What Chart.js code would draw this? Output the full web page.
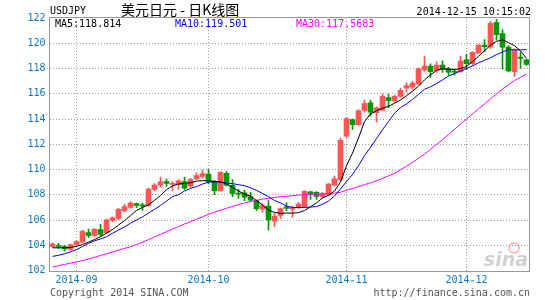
<!DOCTYPE html>
<html>
<head>
<meta charset="utf-8">
<script src="https://cdn.jsdelivr.net/npm/chart.js@4.4.1/dist/chart.umd.min.js"></script>
<style>
  html, body { margin: 0; padding: 0; background: #fff; }
  canvas { display: block; }
</style>
</head>
<body>
<canvas id="kChart" width="545" height="300"></canvas>
<script>
// trading days shown on the chart
const dates = [
  '2014-08-26','2014-08-27','2014-08-28','2014-08-29',
  '2014-09-01','2014-09-02','2014-09-03','2014-09-04','2014-09-05','2014-09-08','2014-09-09','2014-09-10',
  '2014-09-11','2014-09-12','2014-09-15','2014-09-16','2014-09-17','2014-09-18','2014-09-19','2014-09-22',
  '2014-09-23','2014-09-24','2014-09-25','2014-09-26','2014-09-29','2014-09-30',
  '2014-10-01','2014-10-02','2014-10-03','2014-10-06','2014-10-07','2014-10-08','2014-10-09','2014-10-10',
  '2014-10-13','2014-10-14','2014-10-15','2014-10-16','2014-10-17','2014-10-20','2014-10-21','2014-10-22',
  '2014-10-23','2014-10-24','2014-10-27','2014-10-28','2014-10-29','2014-10-30','2014-10-31',
  '2014-11-03','2014-11-04','2014-11-05','2014-11-06','2014-11-07','2014-11-10','2014-11-11','2014-11-12',
  '2014-11-13','2014-11-14','2014-11-17','2014-11-18','2014-11-19','2014-11-20','2014-11-21','2014-11-24',
  '2014-11-25','2014-11-26','2014-11-27','2014-11-28',
  '2014-12-01','2014-12-02','2014-12-03','2014-12-04','2014-12-05','2014-12-08','2014-12-09','2014-12-10',
  '2014-12-11','2014-12-12','2014-12-15'
];

const opens = [
  103.90,104.00,103.90,103.66,104.06,104.25,105.00,104.78,105.25,105.00,
  105.97,106.13,106.72,107.00,107.30,107.20,107.15,108.42,108.75,109.05,
  108.82,108.80,109.05,108.68,109.26,109.45,109.63,109.05,108.32,109.70,
  108.74,108.10,108.15,107.84,107.53,106.85,107.10,105.90,106.37,107.05,
  106.85,107.00,107.05,108.24,108.20,107.86,108.00,108.76,109.20,112.64,
  113.96,113.55,114.67,115.28,114.50,114.70,115.70,115.46,115.78,116.45,
  116.52,116.77,117.88,118.19,117.85,118.27,118.00,117.78,117.74,118.69,
  118.38,119.24,119.86,119.70,121.63,120.77,119.70,117.75,118.90,118.69
];
const highs = [
  104.20,104.16,104.00,104.10,104.38,105.20,105.28,105.33,105.65,106.08,
  106.25,106.92,107.24,107.45,107.35,107.35,108.52,108.88,109.40,109.25,
  109.05,109.20,109.40,109.30,109.74,109.95,110.00,109.15,109.84,109.85,
  109.20,108.42,108.37,108.20,107.58,107.30,107.53,106.53,106.95,107.37,
  107.10,107.37,108.34,108.30,108.26,108.20,108.90,109.48,112.48,114.12,
  114.00,114.75,115.50,115.50,114.97,116.00,115.97,115.90,116.44,116.87,
  116.99,118.05,118.96,118.37,118.53,118.60,118.10,117.95,118.96,119.12,
  119.33,119.92,120.29,121.73,121.90,121.09,119.81,119.55,119.28,118.75
];
const lows = [
  103.85,103.74,103.53,103.60,104.00,104.20,104.60,104.70,104.70,104.93,
  105.87,106.05,106.66,106.92,106.98,106.76,107.10,108.30,108.60,108.67,
  108.30,108.42,108.42,108.58,109.20,109.32,108.85,108.00,108.26,108.68,
  107.85,107.70,107.53,107.47,106.74,106.63,105.20,105.47,106.10,106.74,
  106.20,106.92,107.00,107.63,107.63,107.74,107.95,108.68,109.10,112.54,
  113.17,113.50,114.55,114.23,113.75,114.65,114.90,115.34,115.70,116.13,
  116.35,116.72,117.79,117.30,117.68,117.68,117.47,117.47,117.68,117.90,
  118.27,119.17,119.33,119.60,120.24,117.95,117.73,117.37,118.00,118.25
];
const closes = [
  104.10,103.90,103.70,104.06,104.30,105.10,104.78,105.28,104.86,106.02,
  106.17,106.85,107.06,107.35,107.15,107.10,108.45,108.76,109.03,108.90,
  108.86,109.10,108.53,109.20,109.52,109.68,109.05,108.32,109.78,108.75,
  108.10,108.05,107.80,107.58,106.90,107.15,106.00,106.32,106.90,106.92,
  107.00,107.26,108.28,108.08,107.86,108.10,108.84,109.27,112.32,114.04,
  113.55,114.65,115.23,114.55,114.88,115.80,115.45,115.80,116.28,116.65,
  116.85,118.00,118.19,117.75,118.27,117.90,117.70,117.70,118.59,118.38,
  119.28,119.86,119.72,121.57,120.68,119.68,117.80,119.50,118.80,118.32
];

// moving average lines
const ma5 = [
  103.80,103.80,103.80,103.82,103.92,104.05,104.25,104.45,104.68,104.95,
  105.25,105.60,105.95,106.35,106.75,107.00,107.20,107.55,107.94,108.40,
  108.70,108.85,108.90,108.95,109.08,109.12,109.10,109.05,109.03,108.85,
  108.58,108.30,108.05,107.88,107.55,107.18,106.80,106.60,106.53,106.55,
  106.55,106.58,106.75,107.05,107.35,107.75,107.95,108.30,109.00,110.30,
  111.30,112.50,113.80,114.40,114.65,114.85,115.00,115.25,115.50,115.85,
  116.20,116.60,117.10,117.50,117.85,118.00,117.95,117.90,118.00,118.15,
  118.55,118.95,119.40,119.85,120.15,120.27,120.05,119.80,119.40,118.81
];
const ma10 = [
  103.12,103.20,103.32,103.48,103.65,103.90,104.15,104.35,104.50,104.68,
  104.95,105.20,105.45,105.75,106.00,106.25,106.55,106.85,107.15,107.50,
  107.85,108.00,108.30,108.50,108.65,108.85,109.00,109.02,109.00,108.92,
  108.88,108.80,108.72,108.55,108.35,108.10,107.85,107.55,107.35,107.10,
  107.00,106.98,107.00,107.02,107.07,107.25,107.50,107.90,108.45,109.05,
  109.60,110.30,111.10,111.75,112.45,113.15,113.80,114.45,114.90,115.20,
  115.55,115.95,116.35,116.55,116.80,117.10,117.40,117.60,117.80,118.00,
  118.20,118.45,118.65,118.85,119.10,119.30,119.50,119.48,119.47,119.50
];
const ma30 = [
  102.28,102.38,102.48,102.58,102.68,102.78,102.91,103.05,103.19,103.33,
  103.47,103.61,103.75,103.88,104.05,104.24,104.45,104.66,104.87,105.08,
  105.28,105.48,105.68,105.87,106.06,106.25,106.45,106.62,106.78,106.93,
  107.08,107.22,107.35,107.46,107.56,107.65,107.72,107.78,107.84,107.88,
  107.92,107.97,108.00,108.02,108.04,108.06,108.09,108.13,108.20,108.35,
  108.50,108.65,108.80,108.95,109.10,109.30,109.50,109.70,109.98,110.27,
  110.56,110.88,111.22,111.60,111.98,112.37,112.77,113.18,113.60,114.00,
  114.40,114.80,115.20,115.60,116.00,116.38,116.72,117.05,117.30,117.57
];

const yTicks = [102, 104, 106, 108, 110, 112, 114, 116, 118, 120, 122];

const UP = '#ff5555';
const DOWN = '#009900';
const BLUE_TXT = '#0a78c8';
const GRID = '#a0a0a0';
const MONO = 'DejaVu Sans Mono';

const candleColors = closes.map((c, i) => c >= opens[i] ? UP : DOWN);
// first trading day of each month gets a tick + grid line
const monthStarts = dates.map((d, i) => i > 0 && d.slice(5, 7) !== dates[i - 1].slice(5, 7) ? i : -1)
  .filter(i => i >= 0);

const decor = {
  id: 'decor',
  beforeDatasetsDraw(chart) {
    const ctx = chart.ctx;
    ctx.save();
    ctx.fillStyle = 'rgba(150,150,150,0.45)';
    ctx.font = 'italic bold 19px "DejaVu Sans"';
    ctx.textAlign = 'right';
    ctx.textBaseline = 'alphabetic';
    ctx.fillText('sina', 528, 266);
    ctx.strokeStyle = 'rgba(255,90,90,0.4)';
    ctx.lineWidth = 2;
    ctx.beginPath();
    ctx.arc(514, 248, 5, 0, Math.PI * 2);
    ctx.stroke();
    ctx.restore();
  },
  afterDraw(chart) {
    const {ctx, chartArea: a} = chart;
    ctx.save();
    ctx.strokeStyle = '#999';
    ctx.lineWidth = 1;
    ctx.strokeRect(Math.floor(a.left) + 0.5, Math.floor(a.top) - 0.5,
      Math.round(a.right - a.left), Math.round(a.bottom - a.top) + 1);

    ctx.textBaseline = 'middle';
    ctx.font = '10px "' + MONO + '"';
    ctx.fillStyle = '#000';
    ctx.textAlign = 'left';
    ctx.fillText('USDJPY', 50, 11);
    ctx.textAlign = 'right';
    ctx.fillText('2014-12-15 10:15:02', 531, 12);
    ctx.textAlign = 'left';
    ctx.font = '14px "Noto Sans CJK SC"';
    ctx.fillText('美元日元 - 日K线图', 121, 10);

    ctx.font = '10px "' + MONO + '"';
    ctx.fillStyle = '#000';
    ctx.fillText('MA5:118.814', 55, 24);
    ctx.fillStyle = '#0000ff';
    ctx.fillText('MA10:119.501', 175, 24);
    ctx.fillStyle = '#ff00ff';
    ctx.fillText('MA30:117.5683', 296, 24);

    ctx.fillStyle = '#555';
    ctx.fillText('Copyright 2014 SINA.COM', 50, 293);
    ctx.textAlign = 'right';
    ctx.fillText('http://finance.sina.com.cn', 530, 293);
    ctx.restore();
  }
};

new Chart(document.getElementById('kChart'), {
  type: 'bar',
  data: {
    labels: dates,
    datasets: [
      { type: 'line', label: 'MA5', data: ma5, borderColor: '#000', borderWidth: 1, pointRadius: 0, order: 0 },
      { type: 'line', label: 'MA10', data: ma10, borderColor: '#0000ff', borderWidth: 1, pointRadius: 0, order: 0 },
      { type: 'line', label: 'MA30', data: ma30, borderColor: '#ff00ff', borderWidth: 1, pointRadius: 0, order: 0 },
      {
        label: 'wick', data: dates.map((d, i) => [lows[i], highs[i]]),
        backgroundColor: candleColors, barThickness: 1, grouped: false, order: 2
      },
      {
        label: 'body', data: dates.map((d, i) => [opens[i], closes[i]]),
        backgroundColor: candleColors, barThickness: 5, minBarLength: 1, grouped: false, order: 1
      }
    ]
  },
  options: {
    responsive: false,
    animation: false,
    devicePixelRatio: 1,
    layout: { padding: { left: 0, right: 15.5, top: 18, bottom: 0 } },
    plugins: { legend: { display: false }, tooltip: { enabled: false } },
    scales: {
      x: {
        type: 'category',
        offset: true,
        grid: { offset: false, color: GRID, drawTicks: false },
        border: { display: false, dash: [1, 2] },
        ticks: {
          autoSkip: false, maxRotation: 0, minRotation: 0, padding: 4,
          color: BLUE_TXT, font: { family: MONO, size: 10 },
          callback(v) { return this.getLabelForValue(v).slice(0, 7); }
        },
        afterBuildTicks: s => { s.ticks = s.ticks.filter(t => monthStarts.includes(t.value)); },
        afterFit: s => { s.height = 29.5; }
      },
      y: {
        min: 102, max: 122,
        afterBuildTicks: s => { s.ticks = yTicks.map(v => ({ value: v })); },
        grid: {
          color: c => (c.tick && (c.tick.value === 102 || c.tick.value === 122)) ? 'rgba(0,0,0,0)' : GRID,
          drawTicks: false
        },
        border: { display: false, dash: [1, 2] },
        ticks: { padding: 4, color: BLUE_TXT, font: { family: MONO, size: 10 } },
        afterFit: s => { s.width = 49.5; }
      }
    }
  },
  plugins: [decor]
});
</script>
</body>
</html>
